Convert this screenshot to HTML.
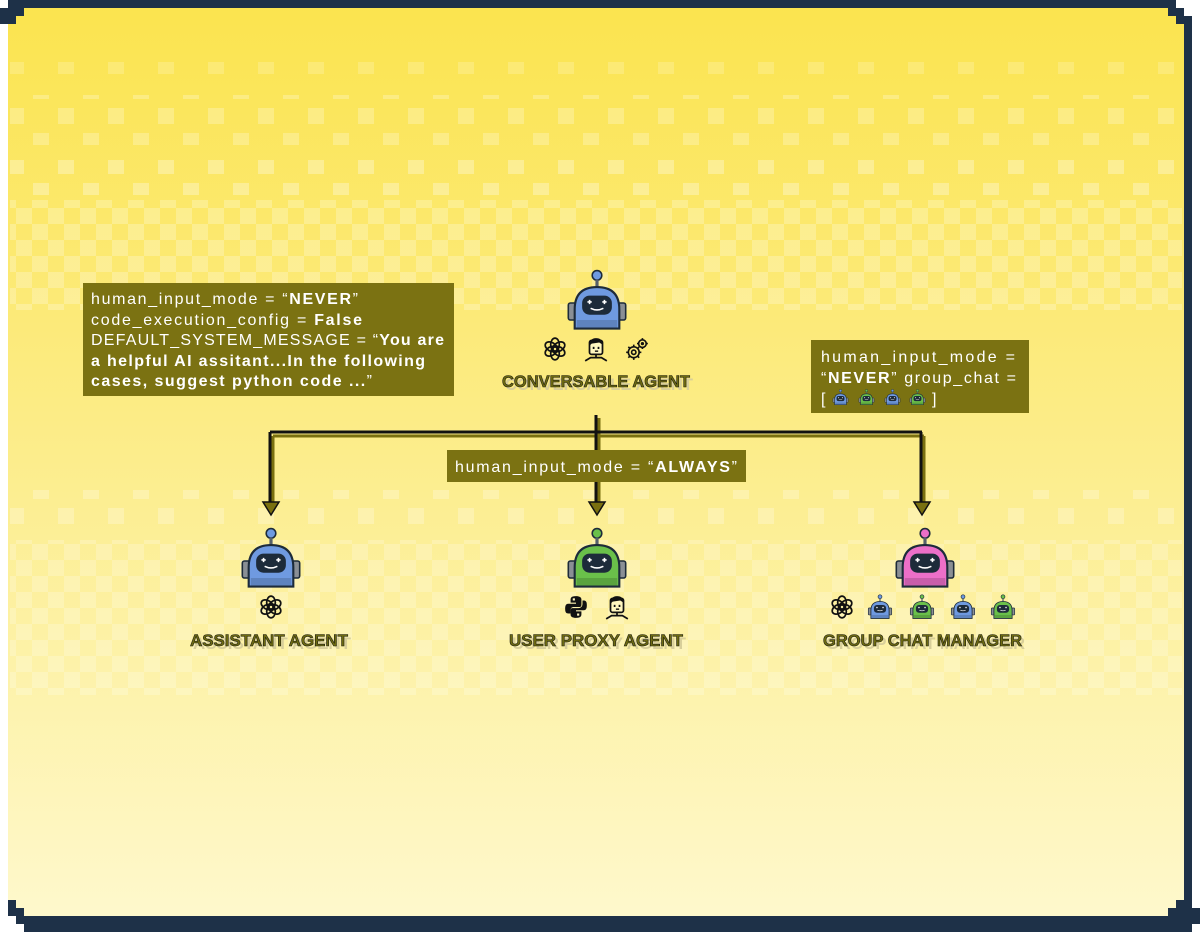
<!DOCTYPE html>
<html><head><meta charset="utf-8"><style>
html,body{margin:0;padding:0;background:#fff;width:1200px;height:932px;overflow:hidden}
svg{display:block}
</style></head><body>
<svg width="1200" height="932" viewBox="0 0 1200 932" xmlns="http://www.w3.org/2000/svg">
<defs>
<linearGradient id="bg" x1="0" y1="0" x2="0" y2="1">
<stop offset="0" stop-color="#fbe44f"/><stop offset="0.45" stop-color="#fcec86"/><stop offset="1" stop-color="#fef8cc"/>
</linearGradient>
<pattern id="chk" width="32" height="32" patternUnits="userSpaceOnUse">
<rect x="0" y="0" width="16" height="16" fill="#fff" opacity="0.3"/>
<rect x="16" y="16" width="16" height="16" fill="#fff" opacity="0.3"/>
</pattern>
<pattern id="dots" width="50" height="50" patternUnits="userSpaceOnUse">
<rect x="8" y="8" width="16" height="16" fill="#fff" opacity="0.3"/>
<rect x="33" y="33" width="16" height="16" fill="#fff" opacity="0.3"/>
</pattern>
<symbol id="bot" viewBox="0 0 60 64">
<circle cx="30" cy="6" r="4.5" fill="currentColor" stroke="#1d2b3a" stroke-width="1.5"/>
<rect x="28.5" y="10" width="3" height="8" fill="#55606a"/>
<rect x="3" y="32" width="9" height="16" rx="2" fill="#8a8f95" stroke="#1d2b3a" stroke-width="1.5"/>
<rect x="48" y="32" width="9" height="16" rx="2" fill="#8a8f95" stroke="#1d2b3a" stroke-width="1.5"/>
<path d="M9,56 L9,38 Q9,17 30,17 Q51,17 51,38 L51,56 Z" fill="currentColor" stroke="#1d2b3a" stroke-width="2"/>
<rect x="11" y="48" width="38" height="7" fill="#000" opacity="0.15"/>
<rect x="16" y="25" width="28" height="18" rx="7" fill="#1d2b3a"/>
<path d="M21,31 h4 M23,29 v4 M35,31 h4 M37,29 v4" stroke="#fff" stroke-width="1.5"/>
<path d="M24,37 q6,3 12,0" stroke="#fff" stroke-width="1.5" fill="none"/>
</symbol>
<symbol id="oai" viewBox="0 0 24 24">
<g fill="none" stroke="#111" stroke-width="1.6">
<ellipse cx="12" cy="8" rx="4" ry="6" transform="rotate(0 12 12)"/>
<ellipse cx="12" cy="8" rx="4" ry="6" transform="rotate(60 12 12)"/>
<ellipse cx="12" cy="8" rx="4" ry="6" transform="rotate(120 12 12)"/>
<ellipse cx="12" cy="8" rx="4" ry="6" transform="rotate(180 12 12)"/>
<ellipse cx="12" cy="8" rx="4" ry="6" transform="rotate(240 12 12)"/>
<ellipse cx="12" cy="8" rx="4" ry="6" transform="rotate(300 12 12)"/>
</g>
</symbol>
<symbol id="person" viewBox="0 0 24 24">
<rect x="6" y="4" width="12" height="13" rx="2" fill="#fff7c0" stroke="#111" stroke-width="1.6"/>
<path d="M6,9 Q6,2 12,2 Q18,2 18,8 L15,6 L8,7 Z" fill="#111"/>
<rect x="9" y="10" width="1.6" height="2" fill="#111"/><rect x="13.5" y="10" width="1.6" height="2" fill="#111"/>
<path d="M11,14 h3" stroke="#111" stroke-width="1.3"/>
<path d="M12,17 v3 M2,23 l5,-3 h10 l5,3" stroke="#111" stroke-width="1.6" fill="none"/>
</symbol>
<symbol id="gear" viewBox="0 0 24 24">
<g fill="none" stroke="#111" stroke-width="1.5">
<circle cx="9" cy="15" r="5"/><circle cx="9" cy="15" r="2"/>
<path d="M9,8 v2 M9,20 v2 M2,15 h2 M14,15 h2 M4,10 l1.5,1.5 M12.5,18.5 l1.5,1.5 M4,20 l1.5,-1.5 M12.5,11.5 l1.5,-1.5"/>
<circle cx="17" cy="7" r="3.5"/>
<path d="M17,2 v1.5 M17,10.5 v1.5 M12,7 h1.5 M20.5,7 h1.5"/>
</g>
<circle cx="17" cy="7" r="1.5" fill="#111"/>
</symbol>
<symbol id="py" viewBox="0 0 24 24">
<path d="M12,2 C7,2 7,4 7,6 V8 H12 V9 H5 C2,9 2,12 2,14 C2,17 3,18 5,18 H7 V15 C7,13 8,12 10,12 H15 C17,12 17,11 17,9 V5 C17,3 15,2 12,2 Z" fill="#111"/>
<path d="M12,22 C17,22 17,20 17,18 V16 H12 V15 H19 C22,15 22,12 22,10 C22,7 21,6 19,6 H18 V9 C18,11 17,13 14,13 H9 C7,13 7,14 7,16 V19 C7,21 9,22 12,22 Z" fill="#111"/>
<rect x="9" y="4" width="2" height="2" fill="#fff7c0"/><rect x="13" y="18" width="2" height="2" fill="#fff7c0"/>
</symbol>
</defs>

<!-- frame -->
<path d="M16,0 H1176 V8 H1184 V16 H1192 V908 H1200 V924 H1192 V932 H24 V924 H16 V916 H8 V24 H0 V8 H8 V0 Z" fill="#1e3148"/>
<path d="M24,8 H1168 V16 H1176 V24 H1184 V900 H1176 V908 H1168 V916 H24 V908 H16 V900 H8 V24 H16 V16 H24 Z" fill="url(#bg)"/>

<!-- checker bands -->
<rect x="10" y="62" width="1172" height="16" fill="url(#dots)" opacity="0.6"/>
<rect x="10" y="95" width="1172" height="50" fill="url(#dots)" opacity="0.8"/>
<rect x="10" y="160" width="1172" height="35" fill="url(#dots)"/>
<rect x="10" y="200" width="1172" height="110" fill="url(#chk)" opacity="0.8"/>
<rect x="10" y="490" width="1172" height="40" fill="url(#dots)" opacity="0.8"/>
<rect x="10" y="540" width="1172" height="155" fill="url(#chk)" opacity="0.7"/>

<!-- connectors -->
<g stroke="#7a7010" stroke-width="3" fill="none">
<path d="M599,418 V505 M273,436 H924 M273,436 V505 M924,436 V505"/>
</g>
<g stroke="#111" stroke-width="3" fill="none">
<path d="M596,415 V502 M270,432 H922 M270,432 V502 M921,432 V502"/>
</g>
<g fill="#7a7010" stroke="#111" stroke-width="1.5">
<path d="M263,502 H279 L271,515 Z"/>
<path d="M589,502 H605 L597,515 Z"/>
<path d="M914,502 H930 L922,515 Z"/>
</g>

<!-- boxes -->
<g font-family="Liberation Sans, sans-serif" font-size="16" fill="#fff">
<rect x="83" y="283" width="371" height="113" fill="#7b7212"/>
<text x="91" y="304" textLength="267" lengthAdjust="spacing">human_input_mode = “<tspan font-weight="bold">NEVER</tspan>”</text>
<text x="91" y="325" textLength="271" lengthAdjust="spacing">code_execution_config = <tspan font-weight="bold">False</tspan></text>
<text x="91" y="345" textLength="353" lengthAdjust="spacing">DEFAULT_SYSTEM_MESSAGE = “<tspan font-weight="bold">You are</tspan></text>
<text x="91" y="366" font-weight="bold" textLength="334" lengthAdjust="spacing">a helpful AI assitant...In the following</text>
<text x="91" y="386" textLength="281" lengthAdjust="spacing"><tspan font-weight="bold">cases, suggest python code ...</tspan>”</text>

<rect x="811" y="340" width="218" height="73" fill="#7b7212"/>
<text x="821" y="362" textLength="194" lengthAdjust="spacing">human_input_mode =</text>
<text x="821" y="383" textLength="195" lengthAdjust="spacing">“<tspan font-weight="bold">NEVER</tspan>” group_chat =</text>
<text x="821" y="404">[</text>
<text x="932" y="404">]</text>

<rect x="447" y="450" width="299" height="32" fill="#7b7212"/>
<text x="455" y="472" textLength="282" lengthAdjust="spacing">human_input_mode = “<tspan font-weight="bold">ALWAYS</tspan>”</text>
</g>
<use href="#bot" x="832" y="389" width="17" height="18" color="#6f9ae0"/>
<use href="#bot" x="858" y="389" width="17" height="18" color="#6ac04a"/>
<use href="#bot" x="884" y="389" width="17" height="18" color="#6f9ae0"/>
<use href="#bot" x="909" y="389" width="17" height="18" color="#6ac04a"/>

<!-- robots -->
<use href="#bot" x="565" y="269" width="64" height="68" color="#6f9ae0"/>
<use href="#bot" x="239" y="527" width="64" height="68" color="#6f9ae0"/>
<use href="#bot" x="565" y="527" width="64" height="68" color="#6ac04a"/>
<use href="#bot" x="893" y="527" width="64" height="68" color="#ec6fc8"/>

<!-- icons -->
<use href="#oai" x="542" y="336" width="26" height="26"/>
<use href="#person" x="583" y="336" width="26" height="26"/>
<use href="#gear" x="624" y="336" width="26" height="26"/>
<use href="#oai" x="258" y="594" width="26" height="26"/>
<use href="#py" x="563" y="594" width="26" height="26"/>
<use href="#person" x="604" y="594" width="26" height="26"/>
<use href="#oai" x="829" y="594" width="26" height="26"/>
<use href="#bot" x="867" y="594" width="26" height="28" color="#6f9ae0"/>
<use href="#bot" x="909" y="594" width="26" height="28" color="#6ac04a"/>
<use href="#bot" x="950" y="594" width="26" height="28" color="#6f9ae0"/>
<use href="#bot" x="990" y="594" width="26" height="28" color="#6ac04a"/>

<!-- labels -->
<g font-family="Liberation Sans, sans-serif" font-weight="bold" font-size="17">
<g fill="#d8cf9a" transform="translate(3,3)">
<text x="502" y="387" textLength="188" lengthAdjust="spacingAndGlyphs">CONVERSABLE AGENT</text>
<text x="190" y="646" textLength="158" lengthAdjust="spacingAndGlyphs">ASSISTANT AGENT</text>
<text x="509" y="646" textLength="174" lengthAdjust="spacingAndGlyphs">USER PROXY AGENT</text>
<text x="823" y="646" textLength="199" lengthAdjust="spacingAndGlyphs">GROUP CHAT MANAGER</text>
</g>
<g fill="#6d6a12" stroke="#1d1d10" stroke-width="0.6">
<text x="502" y="387" textLength="188" lengthAdjust="spacingAndGlyphs">CONVERSABLE AGENT</text>
<text x="190" y="646" textLength="158" lengthAdjust="spacingAndGlyphs">ASSISTANT AGENT</text>
<text x="509" y="646" textLength="174" lengthAdjust="spacingAndGlyphs">USER PROXY AGENT</text>
<text x="823" y="646" textLength="199" lengthAdjust="spacingAndGlyphs">GROUP CHAT MANAGER</text>
</g>
</g>
</svg>
</body></html>
